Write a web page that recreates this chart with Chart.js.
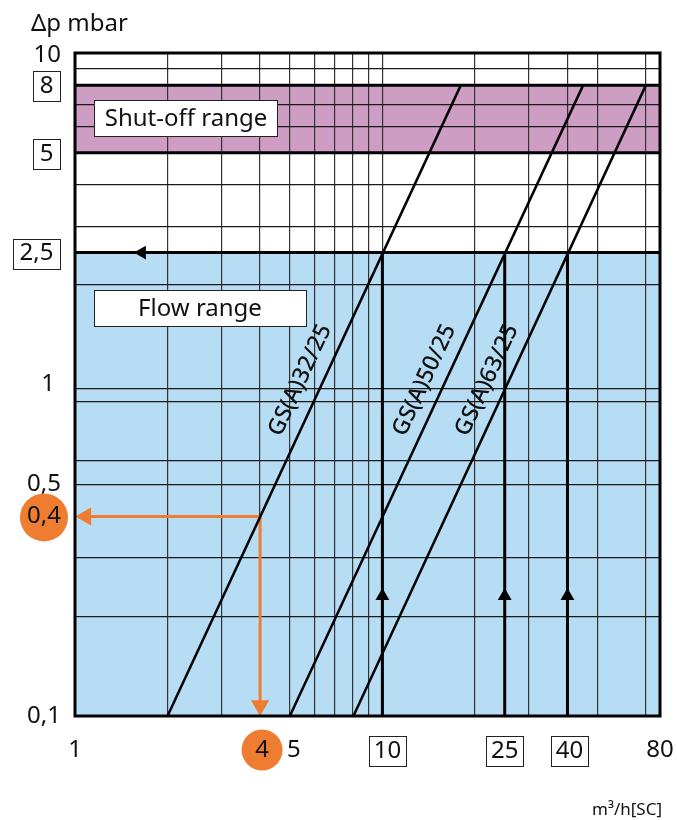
<!DOCTYPE html>
<html>
<head>
<meta charset="utf-8">
<script src="https://cdn.jsdelivr.net/npm/chart.js@4.4.1/dist/chart.umd.min.js"></script>
<style>
  html, body { margin: 0; padding: 0; background: #fff; }
  #wrap { width: 677px; height: 820px; }
</style>
</head>
<body>
<div id="wrap"><canvas id="chart" width="677" height="820"></canvas></div>
<script>
// pressure drop (mbar) against flow (m3/h), log-log

var xTicks = [1, 4, 5, 10, 25, 40, 80];
var xTickLabels = ['1', '4', '5', '10', '25', '40', '80'];
var yTicks = [10, 8, 5, 2.5, 1, 0.5, 0.4, 0.1];
var yTickLabels = ['10', '8', '5', '2,5', '1', '0,5', '0,4', '0,1'];

var xGrid = [2, 3, 4, 5, 6, 7, 8, 9, 10, 20, 30, 40, 50, 72];
var yGrid = [0.2, 0.3, 0.5, 0.59, 0.89, 0.97, 2, 3, 4, 6, 7, 9];

var seriesNames = ['GS(A)32/25', 'GS(A)50/25', 'GS(A)63/25'];
var gs32Flow = [2, 18];
var gs32Dp = [0.1, 8];
var gs50Flow = [5, 45];
var gs50Dp = [0.1, 8];
var gs63Flow = [8.05, 72];
var gs63Dp = [0.1, 8];

var shutOffRange = [5, 8];
var flowRangeMax = 2.5;
var checkFlows = [10, 25, 40];
var checkArrowDp = 0.23;
var flowArrowX = 1.65;

var exampleFlow = 4;
var exampleDp = 0.4;

var xMin = 1, xMax = 80, yMin = 0.1, yMax = 10;

function pts(xs, ys) {
    return xs.map(function (x, i) { return { x: x, y: ys[i] }; });
}
function hline(y) {
    return [{ x: xMin, y: y }, { x: xMax, y: y }];
}
function vline(x, y0, y1) {
    return [{ x: x, y: y0 }, { x: x, y: y1 }];
}

var FONT = '"Noto Sans", "DejaVu Sans", sans-serif';
var ORANGE = '#ee7d31';

var datasets = [];
function line(data, color, width) {
    datasets.push({ data: data, showLine: true, borderColor: color, borderWidth: width,
        pointRadius: 0, fill: false });
}

// thick range lines
line(hline(shutOffRange[1]), '#000', 3);
line(hline(shutOffRange[0]), '#000', 3);
line(hline(flowRangeMax), '#000', 3);

// characteristic lines
line(pts(gs32Flow, gs32Dp), '#000', 2.5);
line(pts(gs50Flow, gs50Dp), '#000', 2.5);
line(pts(gs63Flow, gs63Dp), '#000', 2.5);

// check arrows
checkFlows.forEach(function (f) { line(vline(f, yMin, flowRangeMax), '#000', 3); });
datasets.push({
    data: checkFlows.map(function (f) { return { x: f, y: checkArrowDp }; })
        .concat([{ x: flowArrowX, y: flowRangeMax }]),
    showLine: false, pointStyle: 'triangle', pointRadius: 8,
    pointRotation: [0, 0, 0, 270], backgroundColor: '#000', borderColor: '#000', borderWidth: 0
});

// example reading
line([{ x: exampleFlow, y: exampleDp }, { x: 1.06, y: exampleDp }], ORANGE, 3);
line([{ x: exampleFlow, y: exampleDp }, { x: exampleFlow, y: 0.106 }], ORANGE, 3);
datasets.push({
    data: [{ x: 1.085, y: exampleDp }, { x: exampleFlow, y: 0.1075 }],
    showLine: false, pointStyle: 'triangle', pointRadius: 10.5,
    pointRotation: [270, 180], backgroundColor: ORANGE, borderColor: ORANGE, borderWidth: 0
});

var bandsPlugin = {
    id: 'bands',
    beforeDraw: function (chart) {
        var ctx = chart.ctx, a = chart.chartArea, ys = chart.scales.y;
        ctx.save();
        ctx.fillStyle = '#fff';
        ctx.fillRect(0, 0, chart.width, chart.height);
        ctx.fillStyle = '#b7ddf5';
        var p = ys.getPixelForValue(flowRangeMax);
        ctx.fillRect(a.left, p, a.right - a.left, a.bottom - p);
        ctx.fillStyle = '#cd9dc4';
        var p1 = ys.getPixelForValue(shutOffRange[1]), p0 = ys.getPixelForValue(shutOffRange[0]);
        ctx.fillRect(a.left, p1, a.right - a.left, p0 - p1);
        ctx.restore();
    }
};

function boxText(ctx, text, cx, cy, padX, h) {
    var w = ctx.measureText(text).width + padX * 2;
    ctx.fillStyle = '#fff';
    ctx.fillRect(cx - w / 2, cy - h / 2, w, h);
    ctx.strokeStyle = '#222';
    ctx.lineWidth = 1;
    ctx.strokeRect(Math.round(cx - w / 2) + 0.5, Math.round(cy - h / 2) + 0.5, Math.round(w), Math.round(h));
    ctx.fillStyle = '#111';
    ctx.fillText(text, cx, cy);
}

var labelsPlugin = {
    id: 'labels',
    afterDraw: function (chart) {
        var ctx = chart.ctx, a = chart.chartArea;
        var xs = chart.scales.x, ys = chart.scales.y;
        ctx.save();

        // frame
        ctx.strokeStyle = '#000';
        ctx.lineWidth = 3;
        ctx.strokeRect(a.left, a.top, a.right - a.left, a.bottom - a.top);

        // range boxes
        ctx.font = '24px ' + FONT;
        ctx.textBaseline = 'middle';
        ctx.textAlign = 'center';
        ctx.fillStyle = '#fff';
        ctx.fillRect(95, 101, 182, 35);
        ctx.strokeStyle = '#222';
        ctx.lineWidth = 1;
        ctx.strokeRect(94.5, 100.5, 183, 36);
        ctx.fillStyle = '#111';
        ctx.fillText('Shut-off range', 186, 119);
        ctx.fillStyle = '#fff';
        ctx.fillRect(95, 291, 211, 35);
        ctx.strokeRect(94.5, 290.5, 212, 36);
        ctx.fillStyle = '#111';
        ctx.fillText('Flow range', 200, 309);

        // series labels along the lines
        var anchors = [[5.4, 1.03], [13.7, 1.03], [21.9, 1.03]];
        ctx.font = '500 23px ' + FONT;
        seriesNames.forEach(function (name, i) {
            ctx.save();
            ctx.translate(xs.getPixelForValue(anchors[i][0]), ys.getPixelForValue(anchors[i][1]));
            ctx.rotate(-65 * Math.PI / 180);
            ctx.fillStyle = '#111';
            ctx.fillText(name, 0, 0);
            ctx.restore();
        });

        // y tick labels
        ctx.font = '24px ' + FONT;
        var yBoxed = [8, 5, 2.5];
        yTicks.forEach(function (v, i) {
            var py = ys.getPixelForValue(v);
            var t = yTickLabels[i];
            if (v === exampleDp) {
                ctx.fillStyle = ORANGE;
                ctx.beginPath();
                ctx.arc(44, py + 1, 24, 0, Math.PI * 2);
                ctx.fill();
                ctx.fillStyle = '#111';
                ctx.textAlign = 'center';
                ctx.fillText(t, 44, py);
            } else if (yBoxed.indexOf(v) >= 0) {
                ctx.textAlign = 'center';
                var w = ctx.measureText(t).width + 13;
                boxText(ctx, t, 60 - w / 2, py + 1, 6.5, 30);
            } else {
                ctx.fillStyle = '#111';
                ctx.textAlign = 'right';
                ctx.fillText(t, v === 1 ? 55 : 61, py + (v === yMax ? 2 : 0));
            }
        });

        // x tick labels
        var xBoxed = [10, 25, 40];
        var xShift = { 5: 4, 10: 5, 4: 2, 40: 2 };
        ctx.textAlign = 'center';
        xTicks.forEach(function (v, i) {
            var px = xs.getPixelForValue(v) + (xShift[v] || 0);
            var t = xTickLabels[i];
            var cy = 750;
            if (v === exampleFlow) {
                ctx.fillStyle = ORANGE;
                ctx.beginPath();
                ctx.arc(px, cy, 20.5, 0, Math.PI * 2);
                ctx.fill();
                ctx.fillStyle = '#111';
                ctx.fillText(t, px, cy);
            } else if (xBoxed.indexOf(v) >= 0) {
                boxText(ctx, t, px, cy + 1, 5, 30);
            } else {
                ctx.fillStyle = '#111';
                ctx.fillText(t, px, cy);
            }
        });

        // axis titles
        ctx.fillStyle = '#111';
        ctx.textAlign = 'left';
        ctx.textBaseline = 'alphabetic';
        ctx.font = '24px ' + FONT;
        ctx.fillText('\u0394p mbar', 31, 31);
        ctx.textAlign = 'right';
        ctx.font = '17px ' + FONT;
        ctx.fillText('m\u00b3/h[SC]', 662, 815);
        ctx.restore();
    }
};

var ctx = document.getElementById('chart').getContext('2d');
new Chart(ctx, {
    type: 'scatter',
    data: { datasets: datasets },
    plugins: [bandsPlugin, labelsPlugin],
    options: {
        responsive: false,
        animation: false,
        devicePixelRatio: 1,
        layout: { padding: { left: 75, right: 17, top: 53, bottom: 104 } },
        plugins: { legend: { display: false }, tooltip: { enabled: false } },
        elements: { line: { tension: 0 } },
        scales: {
            x: {
                type: 'logarithmic', min: xMin, max: xMax,
                afterBuildTicks: function (s) { s.ticks = xGrid.map(function (v) { return { value: v }; }); },
                afterFit: function (s) { s.height = 0; },
                ticks: { display: false },
                border: { display: false },
                grid: { drawTicks: false, color: '#333', lineWidth: 1.2 }
            },
            y: {
                type: 'logarithmic', min: yMin, max: yMax,
                afterBuildTicks: function (s) { s.ticks = yGrid.map(function (v) { return { value: v }; }); },
                afterFit: function (s) { s.width = 0; },
                ticks: { display: false },
                border: { display: false },
                grid: { drawTicks: false, color: '#1a1a1a', lineWidth: 1.2 }
            }
        }
    }
});
</script>
</body>
</html>
